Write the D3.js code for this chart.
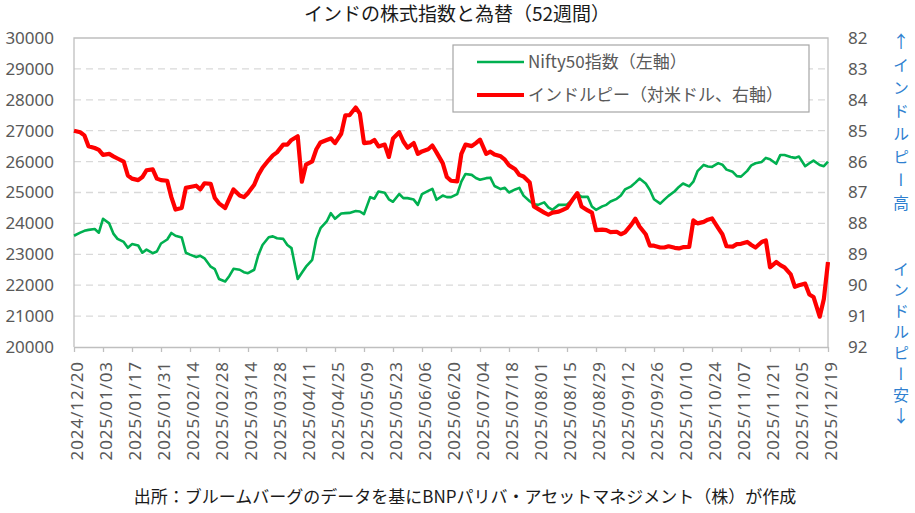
<!DOCTYPE html>
<html>
<head>
<meta charset="utf-8">
<script src="https://cdn.jsdelivr.net/npm/d3@7"></script>
<style>
  html, body { margin: 0; padding: 0; background: #fff; }
  svg text { font-family: "Noto Sans", "Noto Sans CJK JP", sans-serif; }
  .jp { font-family: "Noto Sans CJK JP", "Noto Sans", sans-serif !important; }
</style>
</head>
<body>
<div id="chart"></div>
<script>
// Mon / Wed / Fri readings, 52 weeks
const dates = [
  "2024-12-20",
  "2024-12-23","2024-12-25","2024-12-27","2024-12-30","2025-01-01","2025-01-03",
  "2025-01-06","2025-01-08","2025-01-10","2025-01-13","2025-01-15","2025-01-17",
  "2025-01-20","2025-01-22","2025-01-24","2025-01-27","2025-01-29","2025-01-31",
  "2025-02-03","2025-02-05","2025-02-07","2025-02-10","2025-02-12","2025-02-14",
  "2025-02-17","2025-02-19","2025-02-21","2025-02-24","2025-02-26","2025-02-28",
  "2025-03-03","2025-03-05","2025-03-07","2025-03-10","2025-03-12","2025-03-14",
  "2025-03-17","2025-03-19","2025-03-21","2025-03-24","2025-03-26","2025-03-28",
  "2025-03-31","2025-04-02","2025-04-04","2025-04-07","2025-04-09","2025-04-11",
  "2025-04-14","2025-04-16","2025-04-18","2025-04-21","2025-04-23","2025-04-25",
  "2025-04-28","2025-04-30","2025-05-02","2025-05-05","2025-05-07","2025-05-09",
  "2025-05-12","2025-05-14","2025-05-16","2025-05-19","2025-05-21","2025-05-23",
  "2025-05-26","2025-05-28","2025-05-30","2025-06-02","2025-06-04","2025-06-06",
  "2025-06-09","2025-06-11","2025-06-13","2025-06-16","2025-06-18","2025-06-20",
  "2025-06-23","2025-06-25","2025-06-27","2025-06-30","2025-07-02","2025-07-04",
  "2025-07-07","2025-07-09","2025-07-11","2025-07-14","2025-07-16","2025-07-18",
  "2025-07-21","2025-07-23","2025-07-25","2025-07-28","2025-07-30","2025-08-01",
  "2025-08-04","2025-08-06","2025-08-08","2025-08-11","2025-08-13","2025-08-15",
  "2025-08-18","2025-08-20","2025-08-22","2025-08-25","2025-08-27","2025-08-29",
  "2025-09-01","2025-09-03","2025-09-05","2025-09-08","2025-09-10","2025-09-12",
  "2025-09-15","2025-09-17","2025-09-19","2025-09-22","2025-09-24","2025-09-26",
  "2025-09-29","2025-10-01","2025-10-03","2025-10-06","2025-10-08","2025-10-10",
  "2025-10-13","2025-10-15","2025-10-17","2025-10-20","2025-10-22","2025-10-24",
  "2025-10-27","2025-10-29","2025-10-31","2025-11-03","2025-11-05","2025-11-07",
  "2025-11-10","2025-11-12","2025-11-14","2025-11-17","2025-11-19","2025-11-21",
  "2025-11-24","2025-11-26","2025-11-28","2025-12-01","2025-12-03","2025-12-05",
  "2025-12-08","2025-12-10","2025-12-12","2025-12-15","2025-12-17","2025-12-19"
];

// Nifty50 index (left axis)
const nifty = [
  23600,
  23700, 23760, 23790, 23820, 23700, 24150, 24000, 23670, 23500, 23400, 23210, 23330,
  23285, 23050, 23150, 23035, 23090, 23350, 23480, 23690, 23600, 23545, 23050, 22990,
  22910, 22950, 22870, 22600, 22520, 22200, 22120, 22300, 22530, 22500, 22420, 22390,
  22500, 22980, 23300, 23550, 23580, 23520, 23500, 23300, 23200, 22200, 22400, 22600,
  22820, 23500, 23846, 24062, 24330, 24150, 24320, 24332, 24340, 24400, 24386, 24300,
  24850, 24800, 25034, 24990, 24780, 24700, 24950, 24818, 24818, 24770, 24600, 24950,
  25050, 25120, 24764, 24900, 24850, 24850, 24950, 25350, 25600, 25570, 25470, 25411,
  25465, 25480, 25210, 25110, 25150, 25000, 25100, 25150, 24900, 24715, 24620, 24600,
  24680, 24520, 24440, 24600, 24600, 24610, 24780, 24960, 24860, 24860, 24550, 24440,
  24550, 24600, 24708, 24795, 24900, 25100, 25200, 25320, 25450, 25290, 25080, 24780,
  24640, 24770, 24890, 25040, 25180, 25290, 25200, 25350, 25690, 25892, 25840, 25830,
  25950, 25900, 25740, 25670, 25530, 25514, 25700, 25880, 25946, 25990, 26120, 26076,
  25930, 26216, 26216, 26150, 26120, 26162, 25850, 25946, 26032, 25890, 25850, 26000
];

// Indian rupee per US dollar (right axis, inverted)
const inr = [
  85.00,
  85.05, 85.15, 85.50, 85.56, 85.62, 85.78, 85.75, 85.83, 85.90, 86.00, 86.45, 86.55,
  86.60, 86.50, 86.28, 86.25, 86.55, 86.60, 86.62, 87.15, 87.55, 87.50, 86.85, 86.82,
  86.78, 86.90, 86.70, 86.72, 87.18, 87.35, 87.50, 87.20, 86.90, 87.10, 87.15, 87.02,
  86.75, 86.43, 86.20, 85.95, 85.80, 85.70, 85.45, 85.45, 85.30, 85.18, 86.65, 86.10,
  85.99, 85.60, 85.38, 85.30, 85.25, 85.40, 85.10, 84.50, 84.50, 84.25, 84.45, 85.40,
  85.38, 85.30, 85.51, 85.45, 85.85, 85.25, 85.05, 85.35, 85.55, 85.40, 85.75, 85.67,
  85.60, 85.48, 85.70, 86.05, 86.50, 86.62, 86.64, 85.75, 85.45, 85.50, 85.40, 85.29,
  85.75, 85.68, 85.77, 85.83, 85.94, 86.12, 86.25, 86.43, 86.48, 86.68, 87.45, 87.53,
  87.65, 87.72, 87.65, 87.62, 87.56, 87.50, 87.20, 87.02, 87.45, 87.58, 87.65, 88.22,
  88.20, 88.22, 88.28, 88.27, 88.35, 88.29, 88.05, 87.85, 88.10, 88.35, 88.72, 88.72,
  88.78, 88.78, 88.74, 88.79, 88.81, 88.77, 88.76, 87.90, 88.00, 87.95, 87.88, 87.84,
  88.15, 88.35, 88.74, 88.75, 88.67, 88.66, 88.60, 88.70, 88.78, 88.60, 88.55, 89.42,
  89.25, 89.35, 89.42, 89.65, 90.05, 90.00, 89.95, 90.30, 90.38, 91.02, 90.45, 89.25
];

const tickLabels = [
  "2024/12/20","2025/01/03","2025/01/17","2025/01/31","2025/02/14","2025/02/28",
  "2025/03/14","2025/03/28","2025/04/11","2025/04/25","2025/05/09","2025/05/23",
  "2025/06/06","2025/06/20","2025/07/04","2025/07/18","2025/08/01","2025/08/15",
  "2025/08/29","2025/09/12","2025/09/26","2025/10/10","2025/10/24","2025/11/07",
  "2025/11/21","2025/12/05","2025/12/19"
];
const leftTicks = [20000, 21000, 22000, 23000, 24000, 25000, 26000, 27000, 28000, 29000, 30000];
const rightTicks = [82, 83, 84, 85, 86, 87, 88, 89, 90, 91, 92];

const seriesNames = ['Nifty50指数（左軸）', 'インドルピー（対米ドル、右軸）'];
const seriesColors = ['#00b050', '#ff0000'];

class IndiaChart {
  constructor(el, width, height) {
    this.el = el;
    this.width = width;
    this.height = height;
    this.plot = { left: 74, right: 828, top: 38, bottom: 347 };
  }

  draw() {
    const parse = d3.timeParse('%Y-%m-%d');
    const parseTick = d3.timeParse('%Y/%m/%d');
    this.days = dates.map(parse);
    this.ticks = tickLabels.map(parseTick);

    this.svg = d3.select(this.el).append('svg')
      .attr('width', this.width)
      .attr('height', this.height);

    this.x = d3.scaleTime()
      .domain([this.days[0], this.days[this.days.length - 1]])
      .range([this.plot.left, this.plot.right]);
    this.yLeft = d3.scaleLinear().domain([20000, 30000]).range([this.plot.bottom, this.plot.top]);
    // rupee axis runs downwards: weaker rupee at the bottom
    this.yRight = d3.scaleLinear().domain([82, 92]).range([this.plot.top, this.plot.bottom]);

    this._drawFrame();
    this._drawAxes();
    this._drawLines();
    this._drawLegend();
    this._drawTexts();
  }

  _drawFrame() {
    const p = this.plot;
    this.svg.append('g')
      .selectAll('line')
      .data(leftTicks.slice(1, -1))
      .join('line')
      .attr('x1', p.left).attr('x2', p.right)
      .attr('y1', d => this.yLeft(d)).attr('y2', d => this.yLeft(d))
      .attr('stroke', '#d9d9d9')
      .attr('stroke-width', 1.3)
      .attr('stroke-dasharray', '7,5');

    this.svg.append('path')
      .attr('d', `M${p.left},${p.bottom}V${p.top}H${p.right}V${p.bottom}`)
      .attr('fill', 'none')
      .attr('stroke', '#bfbfbf')
      .attr('stroke-width', 1.3);
  }

  _drawAxes() {
    const p = this.plot;
    const fmt = d3.timeFormat('%Y/%m/%d');

    const xAxis = this.svg.append('g')
      .attr('transform', `translate(0,${p.bottom})`)
      .call(d3.axisBottom(this.x).tickValues(this.ticks).tickFormat(fmt).tickSize(5).tickSizeOuter(0));
    xAxis.select('.domain').attr('stroke', '#bfbfbf').attr('stroke-width', 1.3);
    xAxis.selectAll('.tick line').attr('stroke', '#bfbfbf').attr('stroke-width', 1.3);
    xAxis.selectAll('.tick text')
      .attr('transform', 'rotate(-90)')
      .attr('x', -14).attr('y', 3)
      .attr('dy', '0.35em')
      .attr('text-anchor', 'end')
      .attr('fill', '#595959')
      .style('font-size', '17px')
      .style('letter-spacing', '0.9px');

    const left = this.svg.append('g')
      .attr('transform', `translate(${p.left},0)`)
      .call(d3.axisLeft(this.yLeft).tickValues(leftTicks).tickFormat(d3.format('d')).tickSize(0).tickPadding(20));
    left.select('.domain').remove();
    left.selectAll('text').attr('fill', '#595959').style('font-size', '17px');

    const right = this.svg.append('g')
      .attr('transform', `translate(${p.right},0)`)
      .call(d3.axisRight(this.yRight).tickValues(rightTicks).tickFormat(d3.format('d')).tickSize(0).tickPadding(20));
    right.select('.domain').remove();
    right.selectAll('text').attr('fill', '#595959').style('font-size', '17px');
  }

  _drawLines() {
    const greenLine = d3.line()
      .x((d, i) => this.x(this.days[i]))
      .y(d => this.yLeft(d));
    const redLine = d3.line()
      .x((d, i) => this.x(this.days[i]))
      .y(d => this.yRight(d));

    this.svg.append('path')
      .datum(nifty)
      .attr('d', greenLine)
      .attr('fill', 'none')
      .attr('stroke', seriesColors[0])
      .attr('stroke-width', 2.6)
      .attr('stroke-linejoin', 'round');

    this.svg.append('path')
      .datum(inr)
      .attr('d', redLine)
      .attr('fill', 'none')
      .attr('stroke', seriesColors[1])
      .attr('stroke-width', 4.2)
      .attr('stroke-linejoin', 'round');
  }

  _drawLegend() {
    const g = this.svg.append('g').attr('transform', 'translate(453,45)');
    g.append('rect')
      .attr('width', 356).attr('height', 67)
      .attr('fill', '#fff')
      .attr('stroke', '#a6a6a6')
      .attr('stroke-width', 1.2);

    const rows = g.selectAll('g.item')
      .data(seriesNames)
      .join('g')
      .attr('class', 'item')
      .attr('transform', (d, i) => `translate(0,${17 + i * 33})`);
    rows.append('line')
      .attr('x1', 24).attr('x2', 71)
      .attr('stroke', (d, i) => seriesColors[i])
      .attr('stroke-width', (d, i) => (i === 0 ? 2.6 : 4.2));
    rows.append('text')
      .attr('class', 'jp')
      .attr('x', 75)
      .attr('dy', '0.36em')
      .attr('fill', '#595959')
      .style('font-size', '17px')
      .text(d => d);
  }

  _drawTexts() {
    this.svg.append('text')
      .attr('class', 'jp')
      .attr('x', 457).attr('y', 21)
      .attr('text-anchor', 'middle')
      .attr('fill', '#1a1a1a')
      .style('font-size', '19px')
      .text('インドの株式指数と為替（52週間）');

    this.svg.append('text')
      .attr('class', 'jp')
      .attr('x', 465).attr('y', 503)
      .attr('text-anchor', 'middle')
      .attr('fill', '#1a1a1a')
      .style('font-size', '17px')
      .text('出所：ブルームバーグのデータを基にBNPパリバ・アセットマネジメント（株）が作成');

    // vertical notes beside the rupee axis; arrows drawn upright on their own
    const blue = '#2e7fd0';
    const notes = [['インドルピー高', 57, 7], ['インドルピー安', 261, 5]];
    this.svg.selectAll('text.note')
      .data(notes)
      .join('text')
      .attr('class', 'note jp')
      .attr('x', 901)
      .attr('y', d => d[1])
      .attr('fill', blue)
      .style('font-size', '16px')
      .style('writing-mode', 'vertical-rl')
      .style('letter-spacing', d => `${d[2]}px`)
      .text(d => d[0]);

    const arrows = [['↑', 42], ['↓', 416]];
    this.svg.selectAll('text.arrow')
      .data(arrows)
      .join('text')
      .attr('class', 'arrow jp')
      .attr('x', 901)
      .attr('y', d => d[1])
      .attr('dy', '0.35em')
      .attr('text-anchor', 'middle')
      .attr('fill', blue)
      .style('font-size', '17px')
      .text(d => d[0]);
  }
}

new IndiaChart(document.getElementById('chart'), 915, 513).draw();
</script>
</body>
</html>
